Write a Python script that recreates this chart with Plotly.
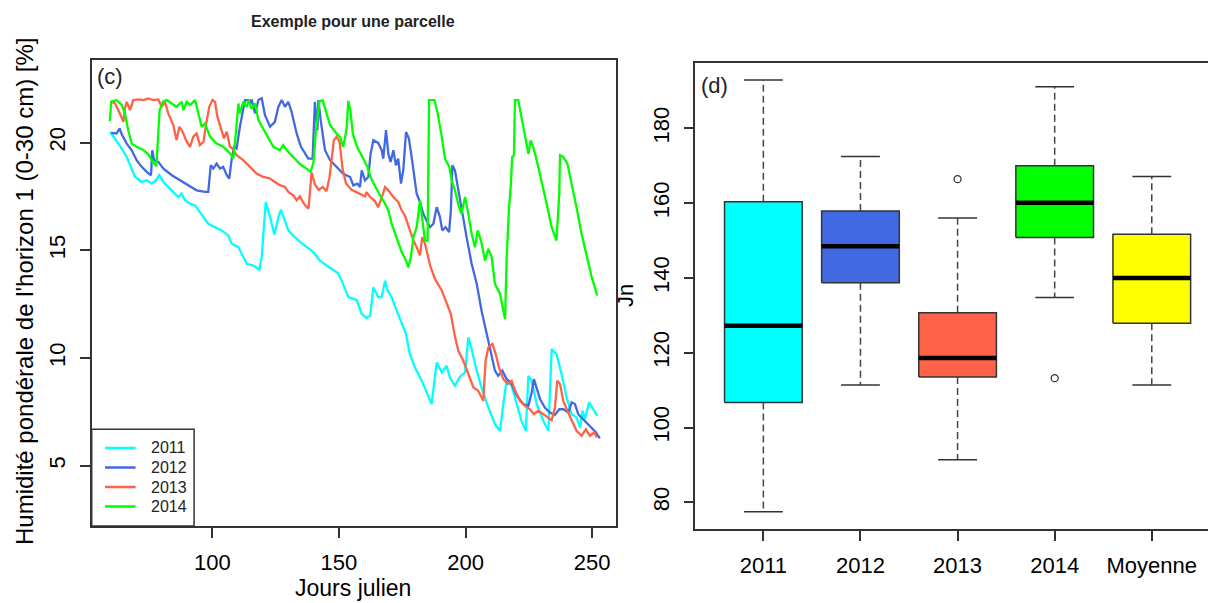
import plotly.graph_objects as go

# ---------------- data : left panel (soil moisture time series) ----------------
days_2011 = [59.6, 61.6, 63.6, 66.2, 68.2, 69.5, 72.1, 74.1, 76.1, 77.8, 79.1, 80.7, 82.6, 84.6, 86.6,
             87.9, 89.2, 91.2, 93.2, 95.5, 98.4, 101.1, 103.7, 106.3, 107.6, 110.3, 112.2, 113.6, 116.2,
             118.6, 119.5, 120.4, 121.1, 122.8, 124.5, 126.1, 127.1, 128.4, 130.0, 132.6, 135.0, 139.9,
             142.5, 145.1, 147.8, 149.7, 151.1, 153.7, 157.0, 159.0, 160.9, 162.3, 163.6, 165.5, 166.9,
             168.2, 169.1, 170.8, 172.8, 174.8, 176.5, 178.0, 180.0, 182.7, 184.6, 186.6, 188.6, 190.6,
             192.5, 193.8, 195.8, 197.8, 199.8, 201.1, 202.4, 204.4, 206.3, 209.0, 211.6, 213.6, 214.9,
             216.2, 218.2, 220.2, 222.1, 223.8, 224.8, 226.1, 228.1, 230.7, 232.7, 234.0, 235.9, 237.9,
             239.9, 241.9, 243.8, 245.2, 246.2, 247.1, 248.8, 250.4, 252.0]
hum_2011 = [20.5, 20.19, 19.83, 19.33, 18.71, 18.4, 18.17, 18.25, 18.09, 18.25, 18.48, 18.17, 17.94, 17.71,
            17.47, 17.63, 17.32, 17.16, 17.08, 16.7, 16.23, 16.07, 15.92, 15.69, 15.3, 15.14, 14.68, 14.37,
            14.29, 14.09, 14.68, 16.07, 17.24, 16.54, 15.73, 16.54, 16.88, 16.46, 15.92, 15.61, 15.35, 14.91,
            14.52, 14.29, 14.06, 13.93, 13.59, 12.82, 12.69, 12.04, 11.86, 11.96, 13.28, 12.82, 12.82,
            13.59, 13.16, 12.82, 12.2, 11.58, 11.11, 10.18, 9.56, 8.94, 8.4, 7.86, 9.79, 9.33,
            9.64, 9.1, 8.71, 9.13, 9.33, 10.96, 10.41, 9.41, 8.63, 7.7, 6.93, 6.62, 7.86,
            8.94, 8.7, 7.86, 7.08, 6.62, 9.17, 8.94, 7.86, 7.08, 6.62, 10.41, 10.18, 9.25,
            8.17, 7.39, 7.24, 6.77, 7.55, 7.16, 7.94, 7.62, 7.31]

days_2012 = [60.1, 62.2, 63.4, 64.2, 66.2, 68.2, 70.1, 72.1, 74.1, 75.8, 76.3, 77.0, 78.7, 80.7, 84.0,
             87.2, 90.5, 93.8, 97.1, 98.4, 99.4, 100.4, 101.7, 103.0, 104.3, 105.7, 106.7, 107.6, 108.6,
             109.6, 110.9, 112.2, 112.9, 114.2, 114.9, 115.5, 116.9, 118.2, 119.5, 120.8, 122.8, 124.7,
             126.1, 127.4, 128.7, 130.0, 131.3, 133.3, 135.0, 137.9, 139.6, 140.5, 141.5, 141.9, 142.8,
             144.5, 146.5, 149.1, 151.7, 154.4, 155.7, 157.3, 158.3, 159.0, 160.3, 161.6, 162.5, 163.6,
             165.5, 166.9, 167.5, 168.6, 169.5, 170.4, 171.5, 172.5, 173.4, 174.5, 175.4, 176.5, 177.6,
             178.7, 180.7, 182.0, 183.3, 184.6, 186.0, 187.3, 188.6, 189.9, 190.8, 192.1, 193.5, 194.2,
             194.8, 195.8, 197.1, 198.4, 200.4, 202.4, 204.4, 206.3, 208.3, 210.0, 211.6, 212.9, 214.5,
             216.2, 217.9, 220.2, 222.8, 224.8, 226.1, 227.0, 228.1, 229.4, 231.3, 233.3, 235.3, 237.0,
             238.6, 240.6, 241.9, 243.2, 244.5, 246.5, 249.1, 251.5, 253.0]
hum_2012 = [20.45, 20.42, 20.65, 20.39, 19.95, 19.64, 19.18, 18.87, 18.64, 18.48, 19.64, 19.18, 19.1, 18.79,
            18.48, 18.25, 18.02, 17.78, 17.71, 17.71, 18.95, 18.79, 19.02, 18.79, 18.87, 18.48, 18.33, 19.18,
            19.8, 19.72, 20.73, 21.66, 21.97, 21.97, 21.81, 22.0, 21.35, 21.97, 22.05, 21.27, 20.73, 20.96,
            21.66, 21.97, 21.66, 21.89, 21.43, 20.42, 19.8, 19.25, 19.25, 21.89, 20.57, 21.97, 21.03,
            19.64, 19.18, 18.86, 18.55, 18.4, 18.01, 18.09, 17.93, 18.71, 18.24, 18.4, 19.48, 20.1,
            19.98, 19.64, 19.25, 20.57, 19.48, 19.1, 19.64, 18.94, 19.25, 18.09, 18.71, 20.49, 20.2,
            19.33, 17.62, 17.24, 16.69, 16.38, 16.07, 16.23, 17.0, 16.54, 15.92, 16.07, 15.84, 16.85,
            18.94, 18.71, 17.78, 16.85, 15.61, 14.37, 13.44, 12.2, 11.11, 10.18, 9.41, 9.17, 9.41,
            9.02, 8.86, 8.25, 7.86, 7.78, 8.4, 9.02, 8.63, 8.09, 7.7, 7.47, 7.36, 7.62,
            7.62, 7.47, 7.94, 7.86, 7.39, 7.16, 6.85, 6.54, 6.27]

days_2013 = [59.9, 61.6, 62.9, 64.2, 64.9, 65.5, 66.2, 67.5, 68.8, 70.8, 72.8, 74.7, 76.7, 78.7, 80.0,
             81.3, 82.6, 84.6, 85.9, 87.0, 88.3, 89.6, 91.2, 92.5, 93.8, 95.1, 96.5, 97.5, 98.8, 100.1,
             101.1, 102.0, 103.0, 104.6, 105.7, 107.0, 108.0, 109.6, 112.2, 114.9, 117.5, 120.1, 122.8,
             124.7, 126.7, 128.7, 130.0, 132.0, 133.3, 134.6, 136.2, 138.0, 138.8, 139.2, 140.5, 142.0,
             143.6, 145.1, 146.3, 147.1, 148.0, 149.1, 150.3, 151.4, 152.8, 155.0, 158.3, 160.3, 160.9,
             162.3, 164.2, 165.5, 167.2, 168.2, 169.5, 171.5, 173.4, 174.8, 176.1, 178.0, 179.4, 180.7,
             182.0, 182.9, 184.0, 186.0, 187.9, 190.6, 192.5, 194.2, 195.6, 197.1, 199.1, 201.1, 203.1,
             205.0, 207.0, 207.9, 209.0, 210.6, 211.9, 213.2, 214.9, 216.6, 218.2, 219.5, 221.5, 223.5,
             225.4, 227.0, 228.7, 230.7, 232.7, 234.0, 235.3, 236.2, 237.3, 238.6, 240.2, 241.9, 243.8,
             245.8, 247.5, 249.1, 250.7, 252.0]
hum_2013 = [21.93, 21.81, 21.5, 21.12, 20.96, 21.58, 21.89, 21.5, 21.97, 22.0, 21.97, 22.05, 21.97, 22.0, 21.66,
            21.89, 21.35, 20.81, 20.11, 20.73, 20.5, 20.11, 19.8, 20.27, 20.42, 19.88, 20.03, 20.81, 21.66, 21.97,
            21.89, 21.2, 20.81, 20.19, 20.5, 19.8, 19.72, 19.41, 19.18, 18.87, 18.56, 18.4, 18.33,
            18.17, 18.02, 17.94, 17.71, 17.55, 17.32, 17.5, 17.16, 16.93, 18.0, 18.6, 18.05, 17.8,
            17.93, 17.74, 18.4, 19.18, 20.1, 20.27, 20.0, 18.8, 18.1, 17.8, 17.62, 17.5, 17.7,
            17.47, 17.28, 17.0, 17.55, 17.93, 17.78, 17.47, 17.24, 16.85, 16.6, 15.95, 15.45, 15.14,
            14.76, 15.61, 15.3, 14.29, 13.67, 13.13, 12.51, 12.04, 11.11, 10.34, 9.87, 9.25, 8.63,
            8.48, 8.01, 9.87, 10.49, 10.65, 10.18, 9.56, 9.02, 8.79, 8.94, 8.5, 8.01, 7.78,
            7.62, 7.39, 7.55, 7.39, 7.24, 7.11, 7.7, 8.94, 8.79, 8.01, 7.55, 7.08, 6.62,
            6.39, 6.69, 6.39, 6.54, 6.31]

days_2014 = [59.5, 60.1, 62.1, 64.2, 65.5, 66.8, 68.2, 70.1, 72.8, 74.7, 76.1, 77.4, 77.9, 78.6, 79.2,
             80.5, 82.0, 83.9, 85.9, 87.9, 88.6, 89.9, 91.2, 93.2, 94.5, 95.8, 97.1, 99.1, 101.7, 104.3,
             107.0, 108.3, 109.3, 110.3, 110.9, 112.2, 113.6, 114.2, 115.5, 116.9, 118.2, 121.5, 124.1,
             126.7, 128.0, 129.4, 132.0, 134.6, 137.2, 138.8, 139.9, 141.2, 142.3, 143.6, 145.0, 146.5,
             148.8, 150.4, 151.7, 153.0, 153.7, 154.5, 155.5, 157.3, 159.3, 161.3, 162.8, 164.5, 166.2,
             168.2, 169.5, 170.8, 172.8, 174.8, 176.5, 177.4, 178.4, 179.4, 180.7, 182.0, 183.3, 184.0,
             185.0, 185.6, 187.7, 189.0, 190.6, 191.9, 193.6, 194.5, 195.8, 197.4, 198.4, 199.8, 201.1,
             202.4, 203.7, 204.8, 206.1, 207.7, 209.0, 210.3, 211.6, 213.6, 214.9, 215.6, 216.2, 217.1,
             217.9, 218.4, 219.1, 219.5, 220.8, 222.1, 223.5, 224.8, 225.7, 226.7, 228.1, 230.0, 232.0,
             234.0, 235.9, 236.6, 237.0, 237.3, 238.6, 240.2, 241.9, 243.8, 245.8, 247.8, 249.8, 252.0]
hum_2014 = [21.0, 21.89, 21.97, 21.74, 21.35, 20.57, 19.95, 19.8, 19.65, 19.45, 19.18, 18.95, 18.9, 20.3, 21.5,
            21.9, 21.97, 21.81, 21.66, 21.89, 21.5, 21.89, 21.74, 21.97, 21.35, 20.73, 20.88, 20.27, 19.95, 19.8,
            19.49, 19.26, 20.42, 21.81, 21.35, 21.89, 21.66, 21.97, 21.58, 21.81, 21.04, 20.34, 19.8,
            19.64, 19.88, 19.64, 19.33, 19.0, 18.79, 18.64, 19.05, 20.9, 21.89, 21.97, 21.4, 20.8,
            20.45, 20.26, 19.8, 20.6, 21.93, 21.5, 20.4, 19.75, 19.33, 18.85, 18.3, 17.9, 17.55,
            17.16, 16.85, 16.23, 15.61, 14.91, 14.52, 14.2, 14.68, 15.61, 16.07, 17.31, 16.07, 15.45,
            15.45, 21.97, 21.97, 21.34, 20.26, 19.25, 18.86, 18.24, 17.78, 17.0, 16.69, 17.47, 16.69,
            15.76, 15.14, 15.92, 15.45, 14.52, 15.07, 14.68, 13.44, 12.97, 12.2, 11.81, 14.52, 16.85,
            18.09, 19.33, 19.41, 21.97, 21.97, 21.19, 20.41, 19.48, 20.1, 19.79, 19.17, 18.24, 17.16,
            16.07, 15.45, 16.85, 17.62, 19.41, 19.33, 19.02, 18.09, 17.0, 15.76, 14.68, 13.75, 12.9]

series_names = ["2011", "2012", "2013", "2014"]
series_colors = ["#00FFFF", "#4169E1", "#FF6347", "#00FF00"]
x_ticks_days = [100, 150, 200, 250]
y_ticks_hum = [5, 10, 15, 20]

# ---------------- data : right panel (boxplots of Jn) ----------------
box_labels = ["2011", "2012", "2013", "2014", "Moyenne"]
box_colors = ["#00FFFF", "#4169E1", "#FF6347", "#00FF00", "#FFFF00"]
whisker_low = [77.5, 111.4, 91.4, 134.8, 111.4]
box_q1 = [106.7, 138.7, 113.5, 150.8, 127.9]
box_median = [127.2, 148.5, 118.6, 160.1, 140.0]
box_q3 = [160.4, 157.9, 130.7, 170.0, 151.7]
whisker_high = [192.9, 172.5, 156.0, 191.1, 167.1]
outlier_group = ["2013", "2014"]
outlier_value = [166.4, 113.2]
y_ticks_jn = [80, 100, 120, 140, 160, 180]

# ---------------- figure ----------------
W, H = 1208, 603
FONT = "Liberation Sans, Arial, sans-serif"
FRAME = "#333333"


def px_x(p):
    return p / W


def px_y(p):
    return 1 - p / H


fig = go.Figure()

all_days = [days_2011, days_2012, days_2013, days_2014]
all_hum = [hum_2011, hum_2012, hum_2013, hum_2014]
for name, col, d, h in zip(series_names, series_colors, all_days, all_hum):
    fig.add_trace(go.Scatter(x=d, y=h, mode="lines", name=name,
                             line=dict(color=col, width=2.3),
                             xaxis="x", yaxis="y", showlegend=False, hoverinfo="skip"))

# boxplots drawn from the statistics arrays
half_box = 0.4
half_cap = 0.2
pos = list(range(1, len(box_labels) + 1))
for i, p in enumerate(pos):
    fig.add_trace(go.Scatter(
        x=[p - half_box, p + half_box, p + half_box, p - half_box, p - half_box],
        y=[box_q1[i], box_q1[i], box_q3[i], box_q3[i], box_q1[i]],
        mode="lines", fill="toself", fillcolor=box_colors[i],
        line=dict(color=FRAME, width=1.5), xaxis="x2", yaxis="y2",
        showlegend=False, hoverinfo="skip"))

wx, wy, cx, cy, mx, my = [], [], [], [], [], []
for i, p in enumerate(pos):
    wx += [p, p, None, p, p, None]
    wy += [box_q3[i], whisker_high[i], None, box_q1[i], whisker_low[i], None]
    cx += [p - half_cap, p + half_cap, None, p - half_cap, p + half_cap, None]
    cy += [whisker_high[i], whisker_high[i], None, whisker_low[i], whisker_low[i], None]
    mx += [p - half_box, p + half_box, None]
    my += [box_median[i], box_median[i], None]

fig.add_trace(go.Scatter(x=wx, y=wy, mode="lines", line=dict(color="#444444", width=1.5, dash="7px,4px"),
                         xaxis="x2", yaxis="y2", showlegend=False, hoverinfo="skip"))
fig.add_trace(go.Scatter(x=cx, y=cy, mode="lines", line=dict(color="#333333", width=1.5),
                         xaxis="x2", yaxis="y2", showlegend=False, hoverinfo="skip"))
fig.add_trace(go.Scatter(x=mx, y=my, mode="lines", line=dict(color="black", width=4.5),
                         xaxis="x2", yaxis="y2", showlegend=False, hoverinfo="skip"))
fig.add_trace(go.Scatter(x=[box_labels.index(g) + 1 for g in outlier_group], y=outlier_value,
                         mode="markers",
                         marker=dict(symbol="circle-open", size=7, color="#333333", line=dict(width=1.3)),
                         xaxis="x2", yaxis="y2", showlegend=False, hoverinfo="skip"))

axis_common = dict(showgrid=False, zeroline=False, showline=True, linecolor=FRAME, linewidth=1.5,
                   ticks="outside", ticklen=10, tickwidth=1.5, tickcolor=FRAME,
                   tickfont=dict(family=FONT, size=22, color="black"))

fig.update_layout(
    width=W, height=H, margin=dict(l=0, r=0, t=0, b=0),
    paper_bgcolor="white", plot_bgcolor="white", showlegend=False,
    xaxis=dict(domain=[px_x(91.5), px_x(616)], range=[52.3, 259.4], tickvals=x_ticks_days,
               mirror=True, anchor="y", ticklabelstandoff=6, **axis_common),
    yaxis=dict(domain=[px_y(526), px_y(60)], range=[2.2, 23.83], tickvals=y_ticks_hum,
               mirror=True, anchor="x", tickangle=-90, ticklabelstandoff=6, **axis_common),
    xaxis2=dict(domain=[px_x(695.4), 1.0], range=[0.3, 5.579], tickvals=pos, ticktext=box_labels,
                mirror=True, anchor="y2", ticklabelstandoff=6, **axis_common),
    yaxis2=dict(domain=[px_y(528.9), px_y(62.5)], range=[72.9, 197.6], tickvals=y_ticks_jn,
                mirror=False, anchor="x2", tickangle=-90, ticklabelstandoff=6, **axis_common),
)

annotations = [
    dict(text="<b>Exemple pour une parcelle</b>", x=px_x(352.5), y=px_y(21.7),
         font=dict(family=FONT, size=16, color="#222222")),
    dict(text="Humidité pondérale de l'horizon 1 (0-30 cm) [%]", x=px_x(24), y=px_y(291),
         textangle=-90, font=dict(family=FONT, size=24, color="black")),
    dict(text="Jours julien", x=px_x(352.5), y=px_y(588),
         font=dict(family=FONT, size=23, color="black")),
    dict(text="Jn", x=px_x(625), y=px_y(295), textangle=-90,
         font=dict(family=FONT, size=22, color="black")),
    dict(text="(c)", x=px_x(109.5), y=px_y(77), font=dict(family=FONT, size=22, color="#222222")),
    dict(text="(d)", x=px_x(714), y=px_y(85), font=dict(family=FONT, size=22, color="#222222")),
]
for a in annotations:
    a.update(xref="paper", yref="paper", showarrow=False, xanchor="center", yanchor="middle")
    fig.add_annotation(**a)

# legend box (bottom-left of the left panel)
shapes = [dict(type="rect", xref="paper", yref="paper", x0=px_x(91.7), x1=px_x(194.1),
               y0=px_y(526), y1=px_y(429.3), line=dict(color=FRAME, width=1.5), fillcolor="white")]
leg_rows = [448, 467.5, 487, 506.5]
for name, col, yy in zip(series_names, series_colors, leg_rows):
    shapes.append(dict(type="line", xref="paper", yref="paper", x0=px_x(105), x1=px_x(135.6),
                       y0=px_y(yy), y1=px_y(yy), line=dict(color=col, width=2.5)))
    fig.add_annotation(text=name, xref="paper", yref="paper", x=px_x(149), y=px_y(yy),
                       xanchor="left", yanchor="middle", showarrow=False,
                       font=dict(family=FONT, size=16, color="#222222"))
fig.update_layout(shapes=shapes)

fig.write_html("out.html", config={"displayModeBar": False},
               post_script="document.body.style.margin='0';document.body.style.overflow='hidden';")
